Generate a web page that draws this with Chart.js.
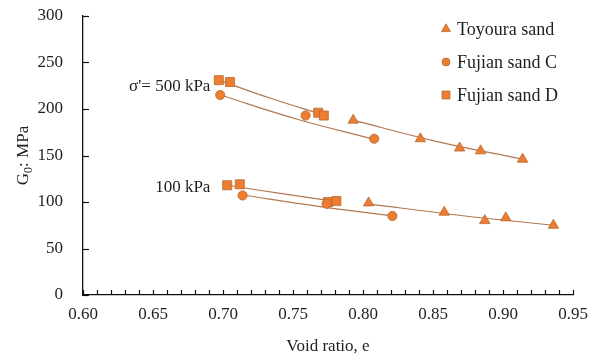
<!DOCTYPE html>
<html><head><meta charset="utf-8">
<script src="https://cdn.jsdelivr.net/npm/chart.js@4"></script>
<style>html,body{margin:0;padding:0;background:#fff}</style>
</head><body>
<canvas id="c" width="604" height="357"></canvas>
<script>
// ---- data ----
const xTickLabels = ['0.60','0.65','0.70','0.75','0.80','0.85','0.90','0.95'];
const yTickLabels = ['0','50','100','150','200','250','300'];
const seriesNames = ['Toyoura sand','Fujian sand C','Fujian sand D'];

const toyouraE500 = [0.793, 0.841, 0.869, 0.884, 0.914];
const toyouraG500 = [188, 168, 158, 155, 146];
const toyouraE100 = [0.804, 0.858, 0.887, 0.902, 0.936];
const toyouraG100 = [99, 89, 80, 83, 75];

const fujianCE500 = [0.698, 0.759, 0.808];
const fujianCG500 = [215, 193, 168];
const fujianCE100 = [0.714, 0.774, 0.821];
const fujianCG100 = [107, 98, 85];

const fujianDE500 = [0.697, 0.705, 0.768, 0.772];
const fujianDG500 = [231, 229, 196, 193];
const fujianDE100 = [0.703, 0.712, 0.775, 0.781];
const fujianDG100 = [118, 119, 100, 101];

// trendlines (start, middle, end)
const trendToyE500 = [0.793, 0.853, 0.914];  const trendToyG500 = [188, 165, 146];
const trendToyE100 = [0.804, 0.870, 0.936];  const trendToyG100 = [98, 85.5, 75];
const trendCE500   = [0.698, 0.753, 0.808];  const trendCG500   = [215, 189, 167.5];
const trendCE100   = [0.714, 0.767, 0.821];  const trendCG100   = [107.5, 95.5, 85];
const trendDE500   = [0.697, 0.735, 0.772];  const trendDG500   = [231, 211, 193.5];
const trendDE100   = [0.703, 0.742, 0.781];  const trendDG100   = [118, 109, 100.5];

const annotations = [
  {text: "σ'= 500 kPa", e: 0.691, g: 224},
  {text: "100 kPa",      e: 0.691, g: 116}
];

// ---- helpers ----
const pts = (xs, ys) => xs.map((x, i) => ({x: x, y: ys[i]}));
const FONT = '"Liberation Serif", "Times New Roman", serif';
const TXT = '#1e1e1e';
const ORANGE = '#ED7D31';
const EDGE = '#b8692f';
const TREND = '#b27750';

const markerDs = (label, style, radius, a, b) => ({
  label: label, type: 'scatter', order: 1,
  data: pts(a[0], a[1]).concat(pts(b[0], b[1])),
  pointStyle: style, pointRadius: radius, pointHoverRadius: radius,
  backgroundColor: ORANGE, borderColor: EDGE, pointBorderWidth: 0.8, showLine: false
});
const trendDs = (xs, ys) => ({
  label: '_trend', type: 'scatter', order: 2, data: pts(xs, ys),
  showLine: true, pointRadius: 0, borderColor: TREND, borderWidth: 1.2,
  tension: 0.4, fill: false
});

const datasets = [
  markerDs(seriesNames[0], 'triangle', 6, [toyouraE500, toyouraG500], [toyouraE100, toyouraG100]),
  markerDs(seriesNames[1], 'circle', 4.6, [fujianCE500, fujianCG500], [fujianCE100, fujianCG100]),
  markerDs(seriesNames[2], 'rect', 6.4, [fujianDE500, fujianDG500], [fujianDE100, fujianDG100]),
  trendDs(trendToyE500, trendToyG500), trendDs(trendToyE100, trendToyG100),
  trendDs(trendCE500, trendCG500), trendDs(trendCE100, trendCG100),
  trendDs(trendDE500, trendDG500), trendDs(trendDE100, trendDG100)
];

const xMin = parseFloat(xTickLabels[0]), xMax = parseFloat(xTickLabels[xTickLabels.length - 1]);
const yMin = parseFloat(yTickLabels[0]), yMax = parseFloat(yTickLabels[yTickLabels.length - 1]);

// inward ticks, annotations, legend, y title
const extras = {
  id: 'extras',
  afterDraw(chart) {
    const ctx = chart.ctx, xs = chart.scales.x, ys = chart.scales.y, ca = chart.chartArea;
    ctx.save();
    ctx.strokeStyle = '#111'; ctx.lineWidth = 1.2;
    xs.ticks.forEach(t => {
      const px = Math.round(xs.getPixelForValue(t.value)) + 0.5;
      ctx.beginPath(); ctx.moveTo(px, ca.bottom); ctx.lineTo(px, ca.bottom - 5); ctx.stroke();
    });
    ys.ticks.forEach(t => {
      const py = Math.round(ys.getPixelForValue(t.value)) + 0.5;
      ctx.beginPath(); ctx.moveTo(ca.left, py); ctx.lineTo(ca.left + 6, py); ctx.stroke();
    });
    // annotations
    ctx.fillStyle = TXT; ctx.font = '17px ' + FONT;
    ctx.textAlign = 'right'; ctx.textBaseline = 'middle';
    annotations.forEach(a => ctx.fillText(a.text, xs.getPixelForValue(a.e), ys.getPixelForValue(a.g)));
    // legend
    const legY = [29, 62, 95];
    chart.data.datasets.slice(0, 3).forEach((d, i) => {
      ctx.fillStyle = ORANGE; ctx.strokeStyle = EDGE; ctx.lineWidth = 0.8;
      const r = d.pointStyle === 'circle' ? 4 : (d.pointStyle === 'rect' ? 5.6 : 5.2);
      Chart.helpers.drawPoint(ctx, {pointStyle: d.pointStyle, radius: r, borderWidth: 0.8, rotation: 0}, 446, legY[i]);
      ctx.fillStyle = TXT; ctx.font = '18px ' + FONT; ctx.textAlign = 'left'; ctx.textBaseline = 'middle';
      ctx.fillText(d.label, 457, legY[i] + 1);
    });
    // y axis title with subscript
    ctx.translate(22, (ca.top + ca.bottom) / 2);
    ctx.rotate(-Math.PI / 2);
    ctx.fillStyle = TXT; ctx.textBaseline = 'alphabetic'; ctx.textAlign = 'left';
    const f1 = '17px ' + FONT, f2 = '12px ' + FONT;
    ctx.font = f1; const wG = ctx.measureText('G').width, wR = ctx.measureText(': MPa').width;
    ctx.font = f2; const w0 = ctx.measureText('0').width;
    let x0 = -(wG + w0 + wR) / 2; const base = 6;
    ctx.font = f1; ctx.fillText('G', x0, base); x0 += wG;
    ctx.font = f2; ctx.fillText('0', x0, base + 4); x0 += w0;
    ctx.font = f1; ctx.fillText(': MPa', x0, base);
    ctx.restore();
  }
};

new Chart(document.getElementById('c'), {
  type: 'scatter',
  data: {datasets: datasets},
  options: {
    responsive: false, animation: false, devicePixelRatio: 1,
    layout: {padding: {top: 16, right: 31, left: 0, bottom: 0}},
    plugins: {legend: {display: false}, tooltip: {enabled: false}},
    scales: {
      x: {
        type: 'linear', min: xMin, max: xMax,
        grid: {display: false, drawTicks: false},
        border: {display: true, color: '#111', width: 1.3},
        ticks: {
          stepSize: 0.01, autoSkip: false, maxRotation: 0, padding: 9,
          color: TXT, font: {family: FONT, size: 17},
          callback: v => { const k = Math.round(v * 100); return k % 5 === 0 ? xTickLabels[(k - 60) / 5] : ''; }
        },
        title: {display: true, text: 'Void ratio, e', color: TXT, font: {family: FONT, size: 17}, padding: {top: 4, bottom: 0}},
        afterFit: s => { s.height = 62; s.paddingLeft = 0; s.paddingRight = 0; }
      },
      y: {
        type: 'linear', min: yMin, max: yMax,
        grid: {display: false, drawTicks: false},
        border: {display: true, color: '#111', width: 1.3},
        ticks: {
          stepSize: 50, padding: 20, color: TXT, font: {family: FONT, size: 17},
          callback: v => yTickLabels[Math.round(v / 50)]
        },
        afterFit: s => { s.width = 83; s.paddingTop = 0; s.paddingBottom = 0; }
      }
    }
  },
  plugins: [extras]
});
</script>
</body></html>
